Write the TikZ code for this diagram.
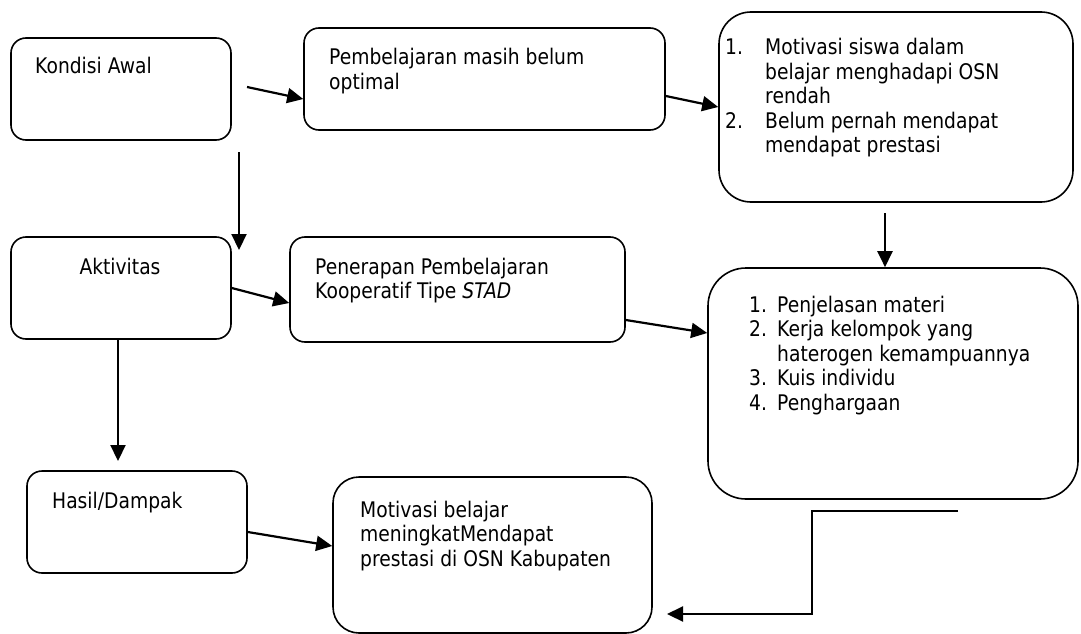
\documentclass[tikz,border=0pt]{standalone}
\usepackage{fontspec}
\setmainfont{DejaVu Sans}[FakeStretch=0.87]
\usetikzlibrary{arrows.meta}
\newcommand\stk[1]{\vtop{\baselineskip=24.5pt\lineskiplimit=-100pt #1}}
\tikzset{
  box/.style={draw, line width=1.6pt, rounded corners=15pt, inner sep=0pt},
  txt/.style={anchor=base west, inner sep=0pt},
  arr/.style={line width=2.2pt, -{Triangle[length=16pt,width=15pt]}},
}
\begin{document}
\begin{tikzpicture}[x=1pt,y=-1pt,font=\fontsize{21.5pt}{24.5pt}\selectfont]
\useasboundingbox (0,0) rectangle (1081,634);
% boxes
\node[box, minimum width=220pt, minimum height=102pt] (kondisi) at (121,89) {};
\node[box, minimum width=361pt, minimum height=102pt] (pemb) at (484.5,79) {};
\node[box, rounded corners=32pt, minimum width=354pt, minimum height=190pt] (motiv) at (896,107) {};
\node[box, minimum width=220pt, minimum height=102pt] (aktiv) at (121,288) {};
\node[box, minimum width=335pt, minimum height=105pt] (pener) at (457.5,289.5) {};
\node[box, rounded corners=38pt, minimum width=370pt, minimum height=231pt] (list) at (893,383.5) {};
\node[box, minimum width=220pt, minimum height=102pt] (hasil) at (137,522) {};
\node[box, rounded corners=26pt, minimum width=319pt, minimum height=156pt] (hmotiv) at (492.5,555) {};
% texts
\node[txt] (tkondisi) at (35,74) {Kondisi Awal};
\node[txt] (tpemb) at (329,65) {\stk{\hbox{Pembelajaran masih belum}\hbox{optimal}}};
\node[txt] (tmotiv) at (725,55) {\stk{%
  \hbox{\makebox[40pt][l]{1.}Motivasi siswa dalam}%
  \hbox{\hspace*{40pt}belajar menghadapi OSN}%
  \hbox{\hspace*{40pt}rendah}%
  \hbox{\makebox[40pt][l]{2.}Belum pernah mendapat}%
  \hbox{\hspace*{40pt}mendapat prestasi}}};
\node[anchor=base, inner sep=0pt] (taktiv) at (120,274) {Aktivitas};
\node[txt] (tpener) at (315,274) {\stk{\hbox{Penerapan Pembelajaran}\hbox{Kooperatif Tipe \textit{STAD}}}};
\node[txt] (tlist) at (749,312) {\stk{%
  \hbox{\makebox[28pt][l]{1.}Penjelasan materi}%
  \hbox{\makebox[28pt][l]{2.}Kerja kelompok yang}%
  \hbox{\hspace*{28pt}haterogen kemampuannya}%
  \hbox{\makebox[28pt][l]{3.}Kuis individu}%
  \hbox{\makebox[28pt][l]{4.}Penghargaan}}};
\node[txt] (thasil) at (52,508) {Hasil/Dampak};
\node[txt] (thmotiv) at (360,517) {\stk{\hbox{Motivasi belajar}\hbox{meningkatMendapat}\hbox{prestasi di OSN Kabupaten}}};
% free connector ends
\coordinate (a1s) at (247,87);
\coordinate (a3s) at (885,213);
\coordinate (a4s) at (239,152);
\coordinate (a4e) at (239,250);
\coordinate (a7e) at (118,461);
\coordinate (a9s) at (958,511);
\coordinate (a9m1) at (812,511);
\coordinate (a9m2) at (812,614);
\coordinate (a9e) at (667,614);
% connectors
\draw[arr] (a1s) -- ([yshift=-20pt]pemb.west);
\draw[arr] ([yshift=-17pt]pemb.east) -- (motiv.west);
\draw[arr] (a3s) -- ([xshift=-8pt]list.north);
\draw[arr] (a4s) -- (a4e);
\draw[arr] (aktiv.east) -- ([yshift=-13.5pt]pener.west);
\draw[arr] ([yshift=-30.5pt]pener.east) -- ([yshift=50.5pt]list.west);
\draw[arr] ([xshift=-3pt]aktiv.south) -- (a7e);
\draw[arr] ([yshift=-10pt]hasil.east) -- ([yshift=9pt]hmotiv.west);
\draw[arr] (a9s) -- (a9m1) -- (a9m2) -- (a9e);
\end{tikzpicture}
\end{document}
